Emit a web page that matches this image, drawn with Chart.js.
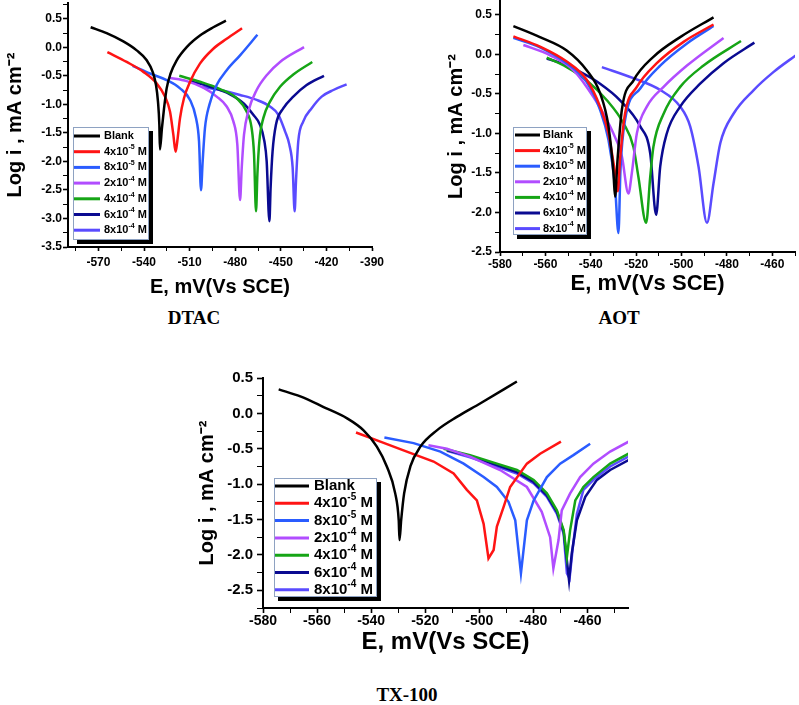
<!DOCTYPE html>
<html>
<head>
<meta charset="utf-8">
<script src="https://cdn.jsdelivr.net/npm/chart.js@4.4.1/dist/chart.umd.min.js"></script>
<style>
    body { margin: 0; background: #fff; width: 799px; height: 705px; position: relative; overflow: hidden; }
    canvas { position: absolute; }
    .lbl { position: absolute; font: bold 19px "Liberation Serif", "Times New Roman", serif; line-height: 20px; color: #000; transform: translateX(-50%); white-space: nowrap; }
</style>
</head>
<body>
<canvas id="dtacChart" width="400" height="300" style="left:0;top:0"></canvas>
<canvas id="aotChart" width="399" height="300" style="left:400px;top:0"></canvas>
<canvas id="txChart" width="460" height="300" style="left:180px;top:360px"></canvas>
<div class="lbl" style="left:194px;top:308px">DTAC</div>
<div class="lbl" style="left:619px;top:308px">AOT</div>
<div class="lbl" style="left:407px;top:685px">TX-100</div>
<script>
// legend labels and colours
const concLabels = ['Blank', '4x10^-5 M', '8x10^-5 M', '2x10^-4 M', '4x10^-4 M', '6x10^-4 M', '8x10^-4 M'];
const seriesColors = ['#000000', '#ff1414', '#2a5cff', '#b14dff', '#16a516', '#0a0a91', '#5a4bff'];

// DTAC  [E mV, log i]
const dtacBlank = [[-575.1,0.355],[-564.6,0.251],[-553.6,0.106],[-544.8,-0.051],[-538.2,-0.225],[-534.3,-0.428],[-532.1,-0.659],[-530.8,-0.949],[-529.9,-1.355],[-529.5,-1.79],[-528.2,-1.413],[-526.8,-1.065],[-525.1,-0.717],[-522.5,-0.457],[-518.5,-0.225],[-511.9,0.007],[-503.2,0.21],[-494.4,0.355],[-486.1,0.471]];
const dtac4e5 = [[-564.1,-0.080],[-551.4,-0.254],[-540.4,-0.428],[-531.7,-0.630],[-526.2,-0.862],[-522.9,-1.123],[-520.7,-1.529],[-519.2,-1.830],[-518.1,-1.645],[-516.3,-1.239],[-513.7,-0.891],[-509.7,-0.601],[-503.2,-0.283],[-494.4,-0.022],[-485.6,0.152],[-475.5,0.338]];
const dtac8e5 = [[-547.5,-0.323],[-536.1,-0.457],[-525.1,-0.572],[-516.3,-0.717],[-509.7,-0.920],[-505.8,-1.239],[-503.8,-1.645],[-502.5,-2.503],[-501.4,-1.993],[-499.9,-1.413],[-497.0,-1.007],[-492.2,-0.659],[-485.6,-0.399],[-476.8,-0.138],[-465.4,0.222]];
const dtac2e4 = [[-523.3,-0.532],[-511.9,-0.590],[-501.0,-0.706],[-492.2,-0.862],[-485.6,-1.036],[-481.2,-1.297],[-478.6,-1.703],[-476.8,-2.677],[-475.7,-2.109],[-474.2,-1.529],[-471.4,-1.123],[-465.9,-0.746],[-459.3,-0.486],[-450.5,-0.254],[-434.7,0.007]];
const dtac4e4 = [[-516.8,-0.497],[-503.2,-0.601],[-490.0,-0.729],[-479.0,-0.891],[-472.5,-1.123],[-469.2,-1.413],[-467.6,-1.877],[-466.3,-2.874],[-465.4,-2.225],[-464.1,-1.645],[-461.5,-1.239],[-457.1,-0.949],[-450.5,-0.688],[-441.8,-0.474],[-429.3,-0.254]];
const dtac6e4 = [[-509.7,-0.590],[-496.6,-0.688],[-483.4,-0.822],[-474.6,-0.978],[-468.1,-1.181],[-463.7,-1.355],[-460.8,-1.645],[-459.3,-1.993],[-457.5,-3.048],[-456.7,-2.457],[-455.4,-1.819],[-453.2,-1.355],[-448.3,-1.065],[-441.8,-0.862],[-433.0,-0.659],[-421.6,-0.497]];
const dtac8e4 = [[-502.1,-0.688],[-490.0,-0.746],[-476.8,-0.833],[-465.9,-0.920],[-457.1,-1.036],[-451.6,-1.181],[-447.2,-1.471],[-444.4,-1.703],[-442.2,-2.109],[-440.9,-2.874],[-440.0,-2.341],[-438.5,-1.645],[-435.2,-1.297],[-429.7,-1.065],[-423.1,-0.862],[-415.4,-0.746],[-406.7,-0.648]];

// AOT
const aotBlank = [[-574.1,0.36],[-562.4,0.22],[-550.6,0.05],[-541.8,-0.20],[-535.9,-0.49],[-532.2,-0.91],[-530.0,-1.50],[-529.3,-1.80],[-528.2,-1.33],[-526.3,-0.70],[-521.2,-0.33],[-512.4,-0.03],[-500.6,0.22],[-485.9,0.47]];
const aot4e5 = [[-574.1,0.23],[-562.4,0.10],[-550.6,-0.09],[-541.8,-0.32],[-535.9,-0.66],[-532.2,-1.00],[-529.3,-1.50],[-528.1,-1.73],[-527.1,-1.33],[-524.9,-0.75],[-519.7,-0.41],[-510.9,-0.11],[-499.1,0.16],[-485.9,0.38]];
const aot8e5 = [[-574.1,0.21],[-562.4,0.09],[-550.6,-0.11],[-541.8,-0.35],[-535.9,-0.70],[-532.2,-1.08],[-529.3,-1.67],[-527.8,-2.26],[-526.9,-1.45],[-524.9,-0.83],[-518.2,-0.43],[-509.4,-0.14],[-497.6,0.14],[-485.9,0.36]];
const aot2e4 = [[-569.7,0.12],[-557.9,-0.01],[-547.6,-0.20],[-538.8,-0.54],[-531.5,-0.91],[-526.3,-1.29],[-523.4,-1.76],[-521.9,-1.50],[-519.7,-1.00],[-515.3,-0.66],[-507.9,-0.41],[-497.6,-0.14],[-481.5,0.21]];
const aot4e4 = [[-559.4,-0.04],[-550.6,-0.16],[-541.8,-0.33],[-532.9,-0.58],[-525.6,-0.87],[-521.2,-1.17],[-519.0,-1.55],[-515.6,-2.13],[-513.8,-1.55],[-512.4,-1.17],[-507.9,-0.75],[-500.6,-0.41],[-490.3,-0.14],[-473.8,0.17]];
const aot6e4 = [[-559.4,-0.05],[-555.0,-0.09],[-544.7,-0.22],[-535.9,-0.37],[-527.1,-0.58],[-518.2,-0.91],[-513.8,-1.25],[-511.2,-2.03],[-509.4,-1.42],[-506.5,-1.00],[-500.6,-0.66],[-491.8,-0.37],[-481.5,-0.11],[-467.9,0.15]];
const aot8e4 = [[-535.1,-0.16],[-521.2,-0.30],[-509.4,-0.45],[-500.6,-0.66],[-496.2,-0.91],[-492.5,-1.42],[-488.8,-2.13],[-485.9,-1.63],[-482.9,-1.12],[-477.1,-0.75],[-468.2,-0.45],[-459.4,-0.22],[-449.1,0.00]];

// TX-100
const txBlank = [[-574.2,0.34],[-566.2,0.24],[-557.6,0.09],[-548.9,-0.07],[-542.8,-0.24],[-537.9,-0.47],[-534.2,-0.75],[-531.1,-1.13],[-529.8,-1.51],[-529.5,-1.79],[-528.9,-1.51],[-527.8,-1.13],[-525.5,-0.75],[-521.8,-0.47],[-515.7,-0.24],[-508.3,-0.05],[-499.7,0.14],[-486.1,0.45]];
const tx4e5 = [[-545.6,-0.27],[-536.6,-0.40],[-526.8,-0.54],[-516.9,-0.68],[-509.5,-0.85],[-504.6,-1.08],[-500.9,-1.23],[-498.4,-1.56],[-496.6,-2.05],[-494.7,-1.93],[-493.5,-1.60],[-491.0,-1.32],[-488.6,-1.04],[-482.4,-0.71],[-477.5,-0.57],[-469.8,-0.40]];
const tx8e5 = [[-535.1,-0.34],[-524.3,-0.42],[-514.4,-0.54],[-505.8,-0.71],[-498.4,-0.90],[-493.5,-1.04],[-489.2,-1.25],[-486.7,-1.51],[-484.6,-2.26],[-482.4,-1.51],[-479.9,-1.23],[-475.0,-0.90],[-470.1,-0.71],[-465.2,-0.59],[-459.0,-0.43]];
const tx2e4 = [[-518.8,-0.45],[-512.0,-0.50],[-503.4,-0.61],[-492.3,-0.80],[-482.4,-1.04],[-476.9,-1.39],[-473.8,-1.75],[-472.6,-2.19],[-470.7,-1.79],[-469.5,-1.37],[-466.4,-1.13],[-462.7,-0.90],[-457.8,-0.71],[-451.6,-0.54],[-444.8,-0.40]];
const tx4e4 = [[-513.2,-0.50],[-503.4,-0.59],[-493.5,-0.71],[-486.1,-0.80],[-479.9,-0.94],[-475.0,-1.13],[-471.3,-1.37],[-468.8,-1.65],[-467.6,-2.03],[-466.4,-1.65],[-464.5,-1.23],[-461.5,-1.04],[-457.8,-0.90],[-451.6,-0.71],[-444.8,-0.57]];
const tx6e4 = [[-512.0,-0.52],[-503.4,-0.60],[-493.5,-0.73],[-486.1,-0.83],[-479.9,-0.97],[-475.0,-1.16],[-471.3,-1.39],[-468.8,-1.67],[-467.6,-2.08],[-466.8,-2.36],[-465.8,-1.98],[-463.9,-1.51],[-460.8,-1.18],[-456.5,-0.94],[-451.6,-0.80],[-444.8,-0.66]];
const tx8e4 = [[-512.0,-0.53],[-503.4,-0.62],[-493.5,-0.75],[-486.1,-0.85],[-479.9,-0.99],[-475.0,-1.18],[-471.3,-1.42],[-468.8,-1.70],[-467.6,-2.26],[-466.6,-2.33],[-465.4,-1.89],[-463.9,-1.42],[-461.5,-1.08],[-457.3,-0.92],[-451.6,-0.75],[-444.8,-0.61]];

// tick labels
const dtacXTicks = [-570, -540, -510, -480, -450, -420, -390];
const dtacYTicks = [-3.5, -3.0, -2.5, -2.0, -1.5, -1.0, -0.5, 0.0, 0.5];
const eXTicks = [-580, -560, -540, -520, -500, -480, -460];
const yTicks25 = [-2.5, -2.0, -1.5, -1.0, -0.5, 0.0, 0.5];

const FONT = '"Liberation Sans", Arial, sans-serif';
Chart.defaults.font.family = FONT;
Chart.defaults.font.weight = 'bold';
Chart.defaults.color = '#000';

// major + minor ticks (minor = half step)
function withMinor(major, min, max) {
    const half = (major[1] - major[0]) / 2;
    const out = [];
    for (let v = major[0] - half * 4; v <= max + 1e-9; v += half) {
        if (v >= min - 1e-9) out.push(Math.round(v * 1000) / 1000);
    }
    return out;
}

function isMajor(list, v) {
    return list.some(m => Math.abs(m - v) < 1e-6);
}

function axis(o) {
    const all = withMinor(o.major, o.min, o.max);
    return {
        type: 'linear',
        position: o.pos,
        min: o.min,
        max: o.max,
        afterBuildTicks: s => { s.ticks = all.map(v => ({ value: v })); },
        afterFit: s => {
            if (o.w) s.width = o.w;
            if (o.h) s.height = o.h;
            s.paddingTop = 0; s.paddingBottom = 0; s.paddingLeft = 0; s.paddingRight = 0;
        },
        border: { display: true, color: '#000', width: 2 },
        grid: {
            drawOnChartArea: false, drawTicks: true, tickLength: o.tl, tickColor: '#000',
            tickWidth: c => isMajor(o.major, c.tick.value) ? 1.6 : 1
        },
        ticks: {
            autoSkip: false, maxRotation: 0, padding: o.pad, color: '#000',
            font: { size: o.fs, weight: 'bold' },
            callback: v => isMajor(o.major, v) ? (o.dec ? v.toFixed(1) : String(v)) : ''
        },
        title: { display: true, text: o.title, color: '#000', font: { size: o.ts, weight: 'bold' }, padding: o.tp }
    };
}

// legend label with superscript exponent
function drawLabel(ctx, text, x, y, size) {
    const m = text.match(/^(.*)\^(\S+)(.*)$/);
    const big = 'bold ' + size + 'px ' + FONT;
    const small = 'bold ' + Math.round(size * 0.65) + 'px ' + FONT;
    ctx.fillStyle = '#000';
    ctx.textBaseline = 'middle';
    ctx.textAlign = 'left';
    ctx.font = big;
    if (!m) { ctx.fillText(text, x, y); return; }
    ctx.fillText(m[1], x, y);
    x += ctx.measureText(m[1]).width;
    ctx.font = small;
    ctx.fillText(m[2], x, y - size * 0.38);
    x += ctx.measureText(m[2]).width;
    ctx.font = big;
    ctx.fillText(m[3], x, y);
}

const insetLegend = {
    id: 'insetLegend',
    afterDatasetsDraw(chart, args, o) {
        const { ctx, chartArea } = chart;
        const x = chartArea.left + o.dx, y = chartArea.top + o.dy;
        ctx.save();
        ctx.fillStyle = '#000';
        ctx.fillRect(x + o.shadow, y + o.shadow, o.w, o.h);
        ctx.fillStyle = '#fff';
        ctx.fillRect(x, y, o.w, o.h);
        ctx.strokeStyle = '#8ea2c2';
        ctx.lineWidth = 1;
        ctx.strokeRect(x + 0.5, y + 0.5, o.w - 1, o.h - 1);
        chart.data.datasets.forEach((ds, i) => {
            const cy = y + o.first + i * o.row;
            ctx.strokeStyle = ds.borderColor;
            ctx.lineWidth = o.lw;
            ctx.beginPath();
            ctx.moveTo(x + o.l0, cy);
            ctx.lineTo(x + o.l1, cy);
            ctx.stroke();
            drawLabel(ctx, ds.label, x + o.tx, cy, o.size);
        });
        ctx.restore();
    }
};

function makeChart(id, series, cfg) {
    return new Chart(document.getElementById(id), {
        type: 'line',
        data: {
            datasets: series.map((s, i) => ({
                label: concLabels[i],
                data: s.map(p => ({ x: p[0], y: p[1] })),
                borderColor: seriesColors[i],
                backgroundColor: seriesColors[i],
                borderWidth: 2.5,
                pointRadius: 0,
                fill: false,
                cubicInterpolationMode: cfg.smooth(i) ? 'monotone' : 'default',
                tension: 0
            }))
        },
        options: {
            responsive: false,
            animation: false,
            devicePixelRatio: 1,
            layout: { padding: cfg.pad },
            plugins: { legend: { display: false }, tooltip: { enabled: false }, insetLegend: cfg.legend },
            scales: { x: axis(cfg.x), y: axis(cfg.y) }
        },
        plugins: [insetLegend]
    });
}

const yTitle = 'Log i , mA cm\u207B\u00B2';
const xTitle = 'E, mV(Vs SCE)';

makeChart('dtacChart', [dtacBlank, dtac4e5, dtac8e5, dtac2e4, dtac4e4, dtac6e4, dtac8e4], {
    smooth: () => true,
    pad: { left: 0, top: 3, right: 28, bottom: 0 },
    x: { pos: 'bottom', min: -590, max: -390, major: dtacXTicks, h: 53, tl: 4, pad: 4, fs: 12, title: xTitle, ts: 20, tp: { top: 0, bottom: 1 } },
    y: { pos: 'left', min: -3.5, max: 0.78, major: dtacYTicks, dec: true, w: 68, tl: 5, pad: 1, fs: 12, title: yTitle, ts: 20, tp: { top: 3, bottom: 0 } },
    legend: { dx: 5, dy: 124, w: 76, h: 113, first: 9, row: 15.7, l0: 1, l1: 27, tx: 31, size: 11, lw: 3, shadow: 4 }
});

makeChart('aotChart', [aotBlank, aot4e5, aot8e5, aot2e4, aot4e4, aot6e4, aot8e4], {
    smooth: () => true,
    pad: { left: 0, top: 1, right: 4, bottom: 0 },
    x: { pos: 'bottom', min: -580, max: -450, major: eXTicks, h: 48, tl: 4, pad: 1, fs: 12, title: xTitle, ts: 22, tp: { top: 0, bottom: 3 } },
    y: { pos: 'left', min: -2.5, max: 0.677, major: yTicks25, dec: true, w: 100, tl: 5, pad: 3, fs: 12, title: yTitle, ts: 20, tp: { top: 44, bottom: 0 } },
    legend: { dx: 13, dy: 126, w: 74, h: 108, first: 8, row: 15.6, l0: 2, l1: 27, tx: 30, size: 11, lw: 3, shadow: 4 }
});

makeChart('txChart', [txBlank, tx4e5, tx8e5, tx2e4, tx4e4, tx6e4, tx8e4], {
    smooth: i => i === 0,
    pad: { left: 0, top: 18, right: 12, bottom: 0 },
    x: { pos: 'bottom', min: -580, max: -445, major: eXTicks, h: 52, tl: 5, pad: 0, fs: 14, title: xTitle, ts: 24, tp: { top: 0, bottom: 3 } },
    y: { pos: 'left', min: -2.75, max: 0.5, major: yTicks25, dec: true, w: 83, tl: 6, pad: 4, fs: 15, title: yTitle, ts: 20, tp: { top: 15, bottom: 0 } },
    legend: { dx: 11, dy: 100, w: 103, h: 119, first: 8, row: 17.3, l0: 1, l1: 35, tx: 40, size: 15, lw: 3, shadow: 4 }
});
</script>
</body>
</html>
